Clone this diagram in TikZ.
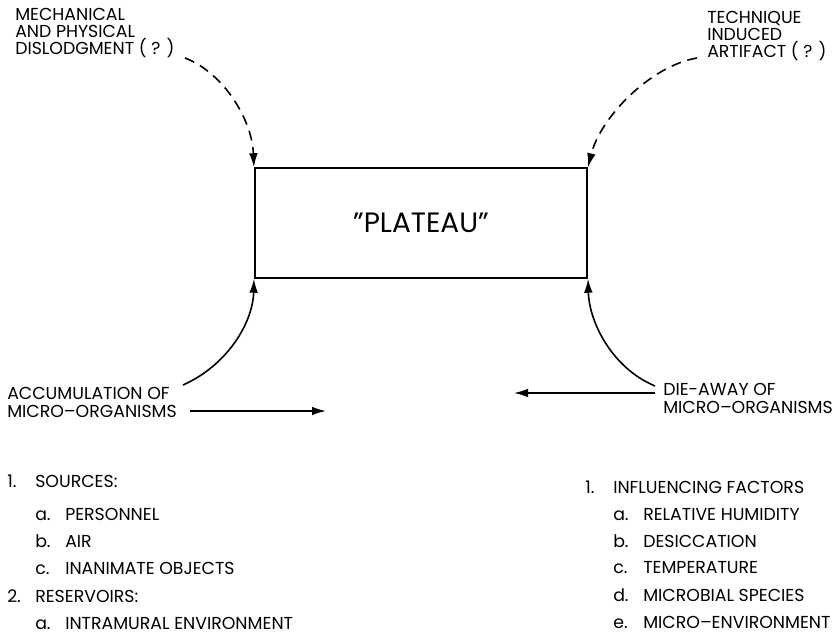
\documentclass[tikz,border=0pt]{standalone}
\usepackage{fontspec}
\setmainfont{Poppins}
\usetikzlibrary{arrows.meta}
\tikzset{
  lbl/.style={anchor=base west, inner sep=0pt, align=left,
    font=\fontsize{13}{13.1}\selectfont},
  listitem/.style={anchor=base west, inner sep=0pt,
    font=\fontsize{13}{13.1}\selectfont},
  flow/.style={line width=1.2pt, -{Latex[length=10.5pt,width=6.5pt]}},
  guess/.style={flow, dash pattern=on 7.5pt off 5pt},
}
\begin{document}
\begin{tikzpicture}[x=0.75pt,y=-0.75pt]
\useasboundingbox (0,0) rectangle (838,634);

% central box
\node[draw, line width=1.6pt, minimum width=249pt, minimum height=82pt,
      inner sep=0pt, font=\fontsize{21}{24}\selectfont] (plateau) at (421,223) {"PLATEAU"};

% upper labels (anchored at the baseline of their last line)
\node[lbl] (mech) at (15,55) {MECHANICAL\\AND PHYSICAL\\DISLODGMENT ( ? )};
\node[lbl] (tech) at (707,58) {TECHNIQUE\\INDUCED\\ARTIFACT ( ? )};

% lower labels
\node[lbl] (accum) at (7,417) {ACCUMULATION OF\\MICRO--ORGANISMS};
\node[lbl] (die) at (663,413) {DIE-AWAY OF\\MICRO--ORGANISMS};

% start points of the connectors
\coordinate (mechS) at (185,58);
\coordinate (techS) at (697,58);
\coordinate (accS) at (183,385);
\coordinate (dieS) at (655,386);
\coordinate (accR1) at (190,411);
\coordinate (accR2) at (326,411);
\coordinate (dieL1) at (655,393);
\coordinate (dieL2) at (514,393);

% dashed (uncertain) contributions
\draw[guess] (mechS) .. controls (222,72) and (252,118) .. (plateau.north west);
\draw[guess] (techS) .. controls (650,66) and (600,118) .. (plateau.north east);

% accumulation and die-away curves
\draw[flow] (accS) .. controls (228,365) and (253,322) .. (plateau.south west);
\draw[flow] (dieS) .. controls (612,368) and (589,322) .. (plateau.south east);

% horizontal trend arrows
\draw[flow] (accR1) -- (accR2);
\draw[flow] (dieL1) -- (dieL2);

% left list
\node[listitem] (s1) at (7,487) {1.};
\node[listitem] (s1t) at (35,487) {SOURCES:};
\node[listitem] (s1a) at (35,520) {a.};
\node[listitem] (s1at) at (65,520) {PERSONNEL};
\node[listitem] (s1b) at (35,547) {b.};
\node[listitem] (s1bt) at (65,547) {AIR};
\node[listitem] (s1c) at (35,574) {c.};
\node[listitem] (s1ct) at (65,574) {INANIMATE OBJECTS};
\node[listitem] (s2) at (7,602) {2.};
\node[listitem] (s2t) at (35,602) {RESERVOIRS:};
\node[listitem] (s2a) at (35,629) {a.};
\node[listitem] (s2at) at (65,629) {INTRAMURAL ENVIRONMENT};

% right list
\node[listitem] (f1) at (585,493) {1.};
\node[listitem] (f1t) at (613,493) {INFLUENCING FACTORS};
\node[listitem] (fa) at (613,520) {a.};
\node[listitem] (fat) at (643,520) {RELATIVE HUMIDITY};
\node[listitem] (fb) at (613,547) {b.};
\node[listitem] (fbt) at (643,547) {DESICCATION};
\node[listitem] (fc) at (613,573) {c.};
\node[listitem] (fct) at (643,573) {TEMPERATURE};
\node[listitem] (fd) at (613,601) {d.};
\node[listitem] (fdt) at (643,601) {MICROBIAL SPECIES};
\node[listitem] (fe) at (613,628) {e.};
\node[listitem] (fet) at (643,628) {MICRO--ENVIRONMENT};
\end{tikzpicture}
\end{document}
